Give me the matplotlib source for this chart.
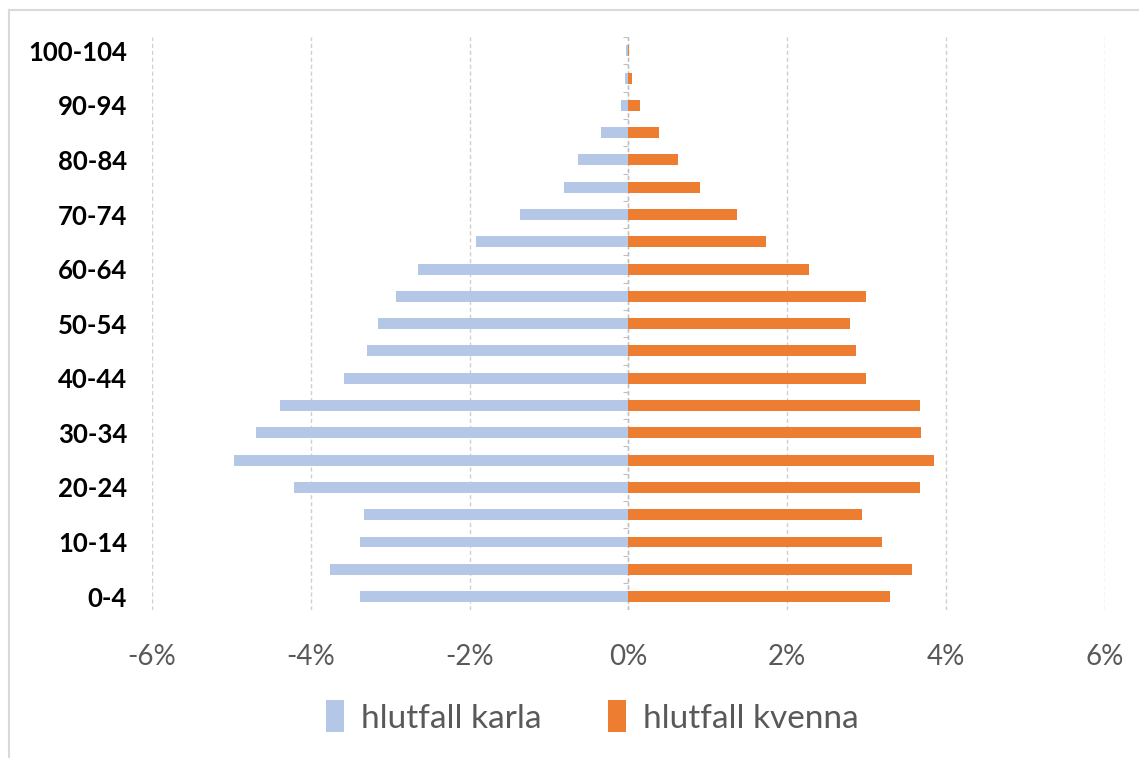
import numpy as np
import matplotlib
matplotlib.use("Agg")
import matplotlib.pyplot as plt
from matplotlib.lines import Line2D
from matplotlib.ticker import FuncFormatter

# age groups, bottom to top
ages = ["0-4", "5-9", "10-14", "15-19", "20-24", "25-29", "30-34", "35-39",
        "40-44", "45-49", "50-54", "55-59", "60-64", "65-69", "70-74",
        "75-79", "80-84", "85-89", "90-94", "95-99", "100-104"]
# share of total population, %
karlar = [3.38, 3.76, 3.38, 3.33, 4.21, 4.97, 4.69, 4.39, 3.58, 3.29, 3.15,
          2.93, 2.65, 1.92, 1.36, 0.81, 0.63, 0.35, 0.10, 0.04, 0.03]
konur = [3.29, 3.57, 3.19, 2.94, 3.67, 3.85, 3.69, 3.67, 2.99, 2.86, 2.79,
         2.99, 2.28, 1.73, 1.37, 0.90, 0.62, 0.39, 0.14, 0.04, 0.002]
xticks = [-6, -4, -2, 0, 2, 4, 6]

plt.rcParams["font.family"] = ["Lato", "DejaVu Sans"]

fig = plt.figure(figsize=(11.39, 7.58), dpi=100)
ax = fig.add_axes([0.1335, 0.195, 0.8365, 0.756])

y = np.arange(len(ages))
ax.barh(y, -np.array(karlar), height=0.4, color="#B4C7E7", label="hlutfall karla", zorder=3)
ax.barh(y, konur, height=0.4, color="#ED7D31", label="hlutfall kvenna", zorder=3)

ax.set_xlim(-6, 6)
ax.set_ylim(-0.5, len(ages) - 0.5)
ax.set_xticks(xticks)
ax.xaxis.set_major_formatter(FuncFormatter(lambda v, p: f"{v:.0f}%"))
ax.set_yticks(y[::2])
ax.set_yticklabels(ages[::2])

ax.grid(axis="x", color="#CFCFCF", linestyle=(0, (3, 2)), linewidth=1, zorder=0)
ax.axvline(0, color="#BFBFBF", linestyle=(0, (3, 2)), linewidth=1, zorder=2)
ax.hlines(y[:-1] + 0.5, -0.07, 0, color="#BFBFBF", linewidth=0.8, zorder=2)
ax.hlines([-0.5, len(ages) - 0.5], -0.07, 0, color="#BFBFBF", linewidth=0.8, zorder=2)

for s in ax.spines.values():
    s.set_visible(False)
ax.tick_params(axis="both", length=0)
ax.tick_params(axis="y", pad=18, labelsize=18.5)
ax.tick_params(axis="x", pad=24, labelsize=20, labelcolor="#595959")
for t in ax.get_yticklabels():
    t.set_fontweight("bold")

fig.legend(loc="center", bbox_to_anchor=(0.52, 1 - 717 / 758), ncol=2,
           frameon=False, fontsize=24, labelcolor="#595959",
           handlelength=0.55, handleheight=1.1, handletextpad=0.5, columnspacing=2.0)

# light chart border (left and top edges)
fig.add_artist(Line2D([9 / 1139, 9 / 1139], [0, 1 - 10 / 758], color="#D9D9D9", lw=1.5))
fig.add_artist(Line2D([9 / 1139, 1], [1 - 10 / 758, 1 - 10 / 758], color="#D9D9D9", lw=1.5))

fig.savefig("out.png", dpi=100)
